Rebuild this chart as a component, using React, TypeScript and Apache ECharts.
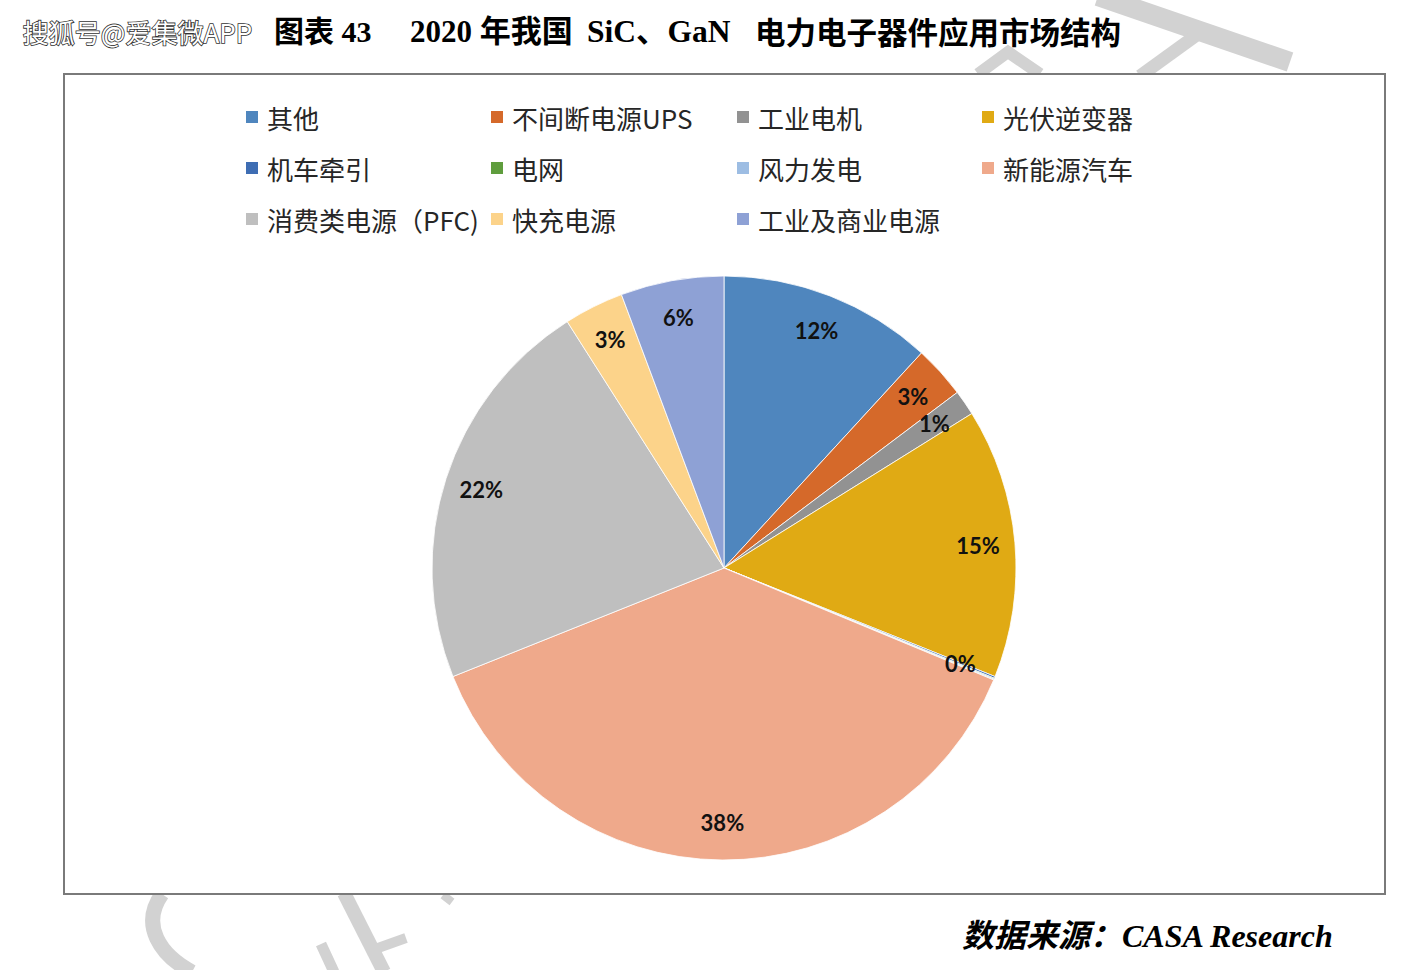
import React, { useEffect, useRef } from "react";
import * as echarts from "echarts";

const categories = [
  "其他",
  "不间断电源UPS",
  "工业电机",
  "光伏逆变器",
  "机车牵引",
  "电网",
  "风力发电",
  "新能源汽车",
  "消费类电源（PFC)",
  "快充电源",
  "工业及商业电源",
];
const shares = [11.8, 2.9, 1.4, 14.9, 0.1, 0.05, 0.05, 37.6, 22.0, 3.3, 5.7];
const colors = [
  "#4f86be",
  "#d5692a",
  "#929292",
  "#e0aa14",
  "#3e6db3",
  "#5f9d3d",
  "#9dbde3",
  "#efa98b",
  "#bfbfbf",
  "#fcd38a",
  "#8ea1d5",
];
const legendColumns = [
  ["其他", "机车牵引", "消费类电源（PFC)"],
  ["不间断电源UPS", "电网", "快充电源"],
  ["工业电机", "风力发电", "工业及商业电源"],
  ["光伏逆变器", "新能源汽车"],
];
const legendLefts = [244, 489, 735, 980];

const WM = "#d2d2d2";

export default function App() {
  const ref = useRef<HTMLDivElement>(null);
  useEffect(() => {
    const chart = echarts.init(ref.current!, null, { renderer: "svg" });
    const data = categories.map((n, i) => ({
      name: n,
      value: shares[i],
      itemStyle: { color: colors[i] },
    }));
    const legends = legendColumns.map((col, ci) => ({
      orient: "vertical",
      left: legendLefts[ci],
      top: 104,
      padding: 0,
      itemWidth: 14,
      itemHeight: 14,
      itemGap: 25,
      icon: "rect",
      selectedMode: false,
      data: col.map((n) => ({
        name: n,
        itemStyle: { color: colors[categories.indexOf(n)] },
      })),
      textStyle: {
        fontFamily: "Noto Sans CJK SC",
        fontSize: 26,
        lineHeight: 26,
        color: "#262626",
        padding: [0, 0, 0, 3],
      },
    }));
    const titleStyle = {
      fontFamily: "Liberation Serif, Noto Sans CJK SC",
      fontWeight: "bold",
      fontSize: 30,
      fill: "#000",
    };
    const option = {
      animation: false,
      backgroundColor: "#ffffff",
      legend: legends,
      graphic: [
        // watermark fragments
        { type: "polyline", z: 0, shape: { points: [[1098, -4], [1290, 62]] }, style: { stroke: WM, lineWidth: 20, fill: null } },
        { type: "polyline", z: 0, shape: { points: [[1140, 76], [1198, 34]] }, style: { stroke: WM, lineWidth: 13, fill: null } },
        { type: "polyline", z: 0, shape: { points: [[978, 74], [1008, 52], [1040, 74]] }, style: { stroke: WM, lineWidth: 12, fill: null } },
        { type: "bezierCurve", z: 0, shape: { x1: 162, y1: 894, cpx1: 140, cpy1: 925, cpx2: 160, cpy2: 955, x2: 192, y2: 972 }, style: { stroke: WM, lineWidth: 15, fill: null } },
        { type: "polyline", z: 0, shape: { points: [[344, 893], [384, 972]] }, style: { stroke: WM, lineWidth: 14, fill: null } },
        { type: "polyline", z: 0, shape: { points: [[378, 948], [406, 938]] }, style: { stroke: WM, lineWidth: 10, fill: null } },
        { type: "polyline", z: 0, shape: { points: [[321, 944], [334, 972]] }, style: { stroke: WM, lineWidth: 11, fill: null } },
        { type: "polyline", z: 0, shape: { points: [[443, 895], [452, 902]] }, style: { stroke: WM, lineWidth: 8, fill: null } },
        // chart box
        { type: "rect", z: 1, shape: { x: 64, y: 74, width: 1321, height: 820 }, style: { fill: "#ffffff", stroke: "#7a7a7a", lineWidth: 2 } },
        // header watermark
        {
          type: "text", z: 10, left: 22, top: 18,
          style: { text: "搜狐号@爱集微APP", fontFamily: "Noto Sans CJK SC", fontSize: 26, fill: "#ffffff", stroke: "#333333", lineWidth: 1.6 },
        },
        // title
        { type: "text", z: 10, left: 274, top: 16, style: { text: "图表 43", ...titleStyle } },
        { type: "text", z: 10, left: 410, top: 16, style: { text: "2020 年我国", ...titleStyle, fontSize: 31 } },
        { type: "text", z: 10, left: 587, top: 16, style: { text: "SiC、GaN", ...titleStyle, fontSize: 31.5 } },
        {
          type: "text", z: 10, left: 755, top: 16,
          style: { text: "电力电子器件应用市场结构", fontFamily: "Noto Sans CJK SC", fontWeight: "bold", fontSize: 30.5, fill: "#000" },
        },
        // source
        {
          type: "text", z: 10, left: 962, top: 920,
          style: { text: "数据来源：CASA Research", fontFamily: "Liberation Serif, Noto Sans CJK SC", fontWeight: "bold", fontStyle: "italic", fontSize: 32, fill: "#000" },
        },
      ],
      series: [
        {
          type: "pie",
          z: 2,
          center: [724, 568],
          radius: [0, 292],
          startAngle: 90,
          clockwise: true,
          silent: true,
          label: { show: false },
          labelLine: { show: false },
          itemStyle: { borderColor: "#ffffff", borderWidth: 0.8 },
          data,
        },
        {
          type: "pie",
          z: 3,
          center: [724, 568],
          radius: [212, 292],
          startAngle: 90,
          clockwise: true,
          silent: true,
          legendHoverLink: false,
          itemStyle: { color: "rgba(0,0,0,0)", borderWidth: 0 },
          label: {
            show: true,
            position: "inside",
            fontFamily: "Lato, Noto Sans",
            fontWeight: "bold",
            fontSize: 22,
            color: "#111111",
            formatter: (p: any) => Math.round(p.percent) + "%",
          },
          labelLine: { show: false },
          data: categories.map((n, i) => ({ name: n, value: shares[i] })),
        },
      ],
    };
    chart.setOption(option as any);
    return () => chart.dispose();
  }, []);
  return (
    <div
      ref={ref}
      style={{ position: "fixed", left: 0, top: 0, width: 1412, height: 970 }}
    />
  );
}
